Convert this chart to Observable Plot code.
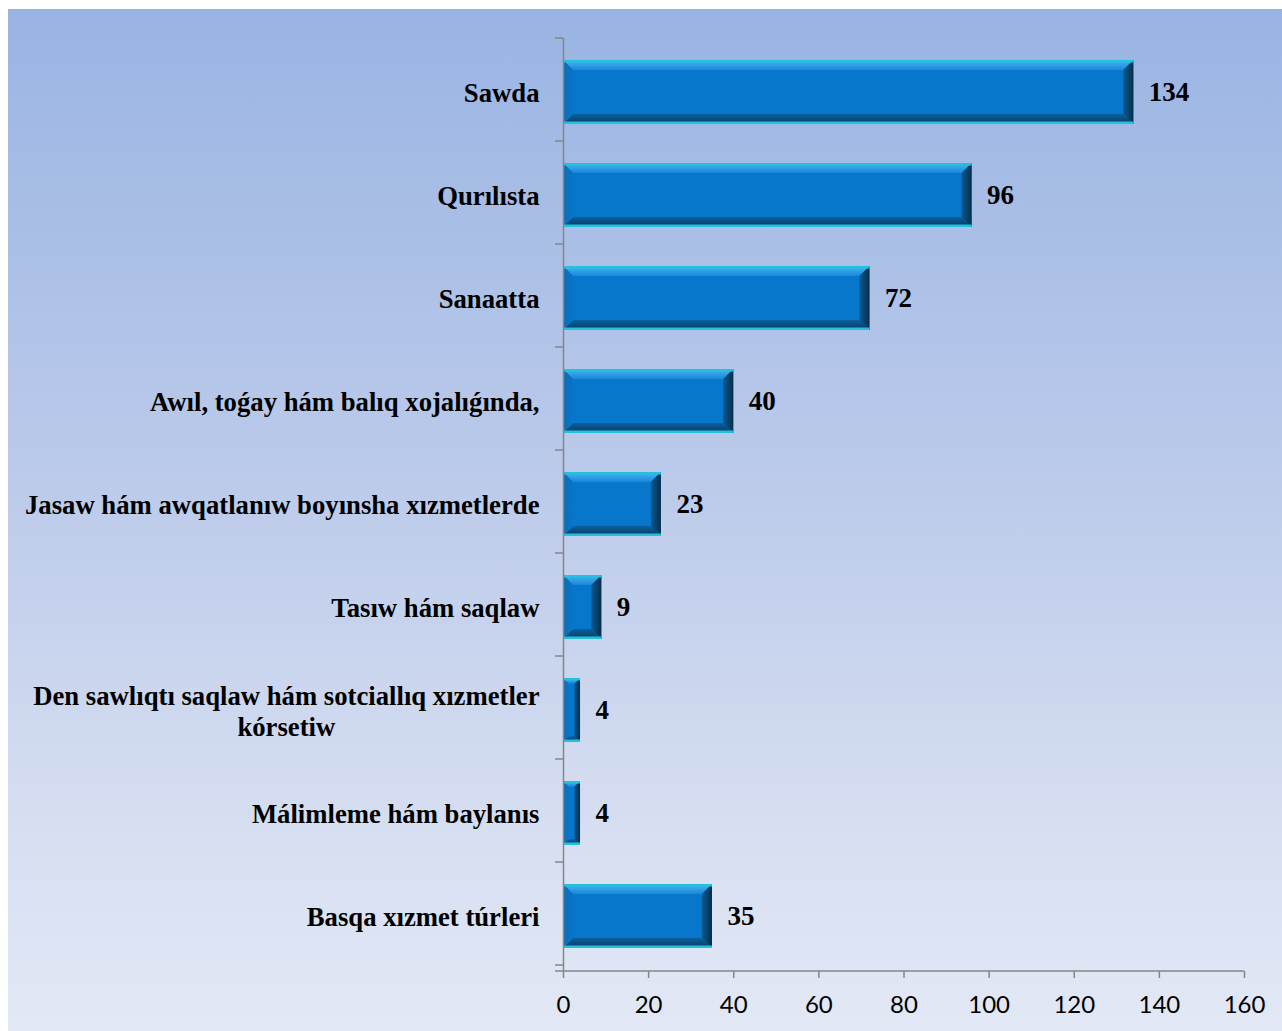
<!DOCTYPE html>
<html>
<head>
<meta charset="utf-8">
<script src="https://cdn.jsdelivr.net/npm/d3@7"></script>
<script src="https://cdn.jsdelivr.net/npm/@observablehq/plot@0.6"></script>
<style>
  html, body { margin: 0; padding: 0; background: #ffffff; }
  #wrap { position: relative; width: 1282px; height: 1031px; overflow: hidden; }
  #bg { position: absolute; left: 8px; top: 9px; right: 0; bottom: 0;
        background: linear-gradient(to bottom, #99b4e3 0%, #bbcaea 45%, #d6def1 80%, #e2e8f5 100%); }
  #chart { position: absolute; left: 0; top: 0; }
</style>
</head>
<body>
<div id="wrap"><div id="bg"></div><div id="chart"></div></div>
<script>
const categories = [
  "Sawda",
  "Qurılısta",
  "Sanaatta",
  "Awıl, toǵay hám balıq xojalıǵında,",
  "Jasaw hám awqatlanıw boyınsha xızmetlerde",
  "Tasıw hám saqlaw",
  "Den sawlıqtı saqlaw hám sotciallıq xızmetler\nkórsetiw",
  "Málimleme hám baylanıs",
  "Basqa xızmet túrleri"
];
const values = [134, 96, 72, 40, 23, 9, 4, 4, 35];
const xTicks = [0, 20, 40, 60, 80, 100, 120, 140, 160];

const data = categories.map((c, i) => ({category: c, value: values[i]}));

const serif = "'Liberation Serif', 'Times New Roman', serif";

const chart = Plot.plot({
  width: 1282,
  height: 1031,
  marginLeft: 563,
  marginRight: 38,
  marginTop: 38,
  marginBottom: 60,
  style: {background: "transparent", overflow: "visible"},
  x: {domain: [0, 160], ticks: xTicks},
  y: {domain: categories, paddingInner: 0.377, paddingOuter: 0.1885},
  marks: [
    Plot.barX(data, {x: "value", y: "category", fill: "#0777cb", className: "bevel-bar"}),
    Plot.ruleX([0], {stroke: "#868686", strokeWidth: 1.5}),
    Plot.axisX({
      ticks: xTicks, tickSize: 7, tickPadding: 17, stroke: "#868686", strokeWidth: 1.5,
      fill: "#000", fontSize: 24, fontFamily: "Lato, 'Open Sans', sans-serif", label: null
    }),
    Plot.axisY({
      tickSize: 0, tickPadding: 24, fill: "#000", fontSize: 26.7, fontWeight: "bold",
      fontFamily: serif, lineHeight: 1.15, label: null, className: "ylabels"
    }),
    Plot.text(data, {
      x: "value", y: "category", text: d => String(d.value), dx: 15, textAnchor: "start",
      fontSize: 27, fontWeight: "bold", fontFamily: serif, fill: "#000"
    })
  ]
});

document.getElementById("chart").appendChild(chart);

// Post-processing using the library's scales
const svg = d3.select(chart);
const xs = chart.scale("x");
const ys = chart.scale("y");
const x0 = xs.apply(0);
const xEnd = xs.apply(160);
const yTop = ys.range[0];
const yBot = ys.range[1];
const step = ys.step;

// Gradients for the bevels
const defs = svg.insert("defs", ":first-child");
function grad(id, x1, y1, x2, y2, stops) {
  const g = defs.append("linearGradient").attr("id", id)
    .attr("x1", x1).attr("y1", y1).attr("x2", x2).attr("y2", y2);
  stops.forEach(([o, c]) => g.append("stop").attr("offset", o).attr("stop-color", c));
}
grad("bvTop", 0, 0, 0, 1, [[0, "#4ab6f6"], [1, "#1887d7"]]);
grad("bvBot", 0, 0, 0, 1, [[0, "#0a60a0"], [1, "#0a3a5e"]]);
grad("bvRight", 0, 0, 1, 0, [[0, "#0b5a92"], [1, "#072e4a"]]);
grad("bvLeft", 0, 0, 1, 0, [[0, "#0a6db8"], [1, "#0876c9"]]);

// Bevel overlays on each bar
svg.selectAll(".bevel-bar rect").each(function () {
  const r = d3.select(this);
  const x = +r.attr("x"), y = +r.attr("y"), w = +r.attr("width"), h = +r.attr("height");
  const b = Math.min(10, w / 3);
  const g = d3.select(this.parentNode);
  const poly = (pts, fill) => g.append("polygon").attr("points", pts.map(p => p.join(",")).join(" ")).attr("fill", fill);
  poly([[x, y], [x + w, y], [x + w - b, y + b], [x + b, y + b]], "url(#bvTop)");
  poly([[x, y + h], [x + w, y + h], [x + w - b, y + h - b], [x + b, y + h - b]], "url(#bvBot)");
  poly([[x, y], [x + b, y + b], [x + b, y + h - b], [x, y + h]], "url(#bvLeft)");
  poly([[x + w, y], [x + w, y + h], [x + w - b, y + h - b], [x + w - b, y + b]], "url(#bvRight)");
  g.append("rect").attr("x", x).attr("y", y).attr("width", w).attr("height", 2.5).attr("fill", "#22c2dc");
  g.append("rect").attr("x", x).attr("y", y + h - 2.5).attr("width", w).attr("height", 2.5).attr("fill", "#22c2dc");
});

// Axis lines and category boundary ticks
const ax = svg.append("g").attr("stroke", "#868686").attr("stroke-width", 1.5);
ax.append("line").attr("x1", x0 - 8).attr("x2", xEnd).attr("y1", yBot).attr("y2", yBot);
for (let i = 0; i <= categories.length; i++) {
  const yy = yTop + i * step;
  ax.append("line").attr("x1", x0 - 8).attr("x2", x0).attr("y1", yy).attr("y2", yy);
}

// Center the second line of the wrapped label under the first
svg.selectAll(".ylabels text").each(function () {
  const tspans = this.querySelectorAll("tspan");
  if (tspans.length > 1) {
    const w = tspans[0].getComputedTextLength();
    tspans.forEach(t => { t.setAttribute("x", -w / 2); t.setAttribute("text-anchor", "middle"); });
  }
});
</script>
</body>
</html>
